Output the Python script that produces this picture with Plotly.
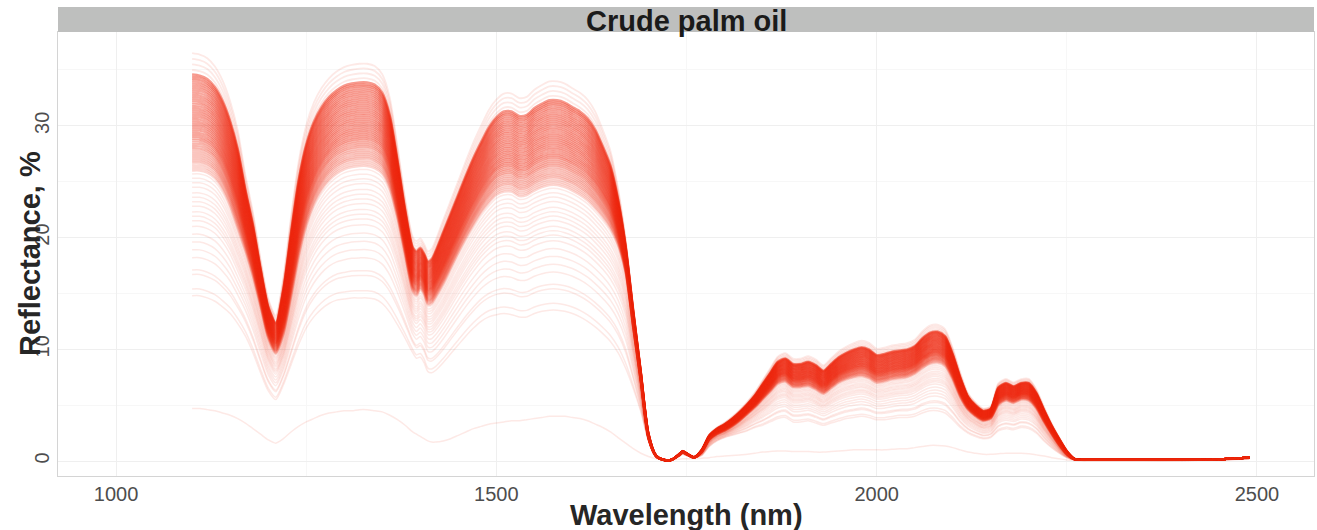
import numpy as np
import plotly.graph_objects as go

# ---------------- data ----------------
wavelength_nm = [
    1100, 1110, 1120, 1130, 1140, 1150, 1160, 1170, 1180, 1190,
    1200, 1210, 1220, 1230, 1240, 1250, 1260, 1270, 1280, 1290,
    1300, 1310, 1320, 1330, 1340, 1350, 1360, 1370, 1380, 1390,
    1395, 1400, 1405, 1410, 1415, 1420, 1430, 1440, 1450, 1460,
    1470, 1480, 1490, 1500, 1510, 1520, 1530, 1540, 1550, 1560,
    1570, 1580, 1590, 1600, 1610, 1620, 1630, 1640, 1650, 1660,
    1670, 1680, 1690, 1700, 1710, 1720, 1730, 1740, 1745, 1750,
    1760, 1770, 1780, 1790, 1800, 1810, 1820, 1830, 1840, 1850,
    1860, 1870, 1880, 1890, 1900, 1910, 1920, 1930, 1940, 1950,
    1960, 1970, 1980, 1990, 2000, 2010, 2020, 2030, 2040, 2050,
    2060, 2070, 2080, 2090, 2100, 2110, 2120, 2130, 2140, 2150,
    2160, 2170, 2180, 2190, 2200, 2210, 2220, 2230, 2240, 2250,
    2260, 2270, 2280, 2300, 2350, 2400, 2450, 2490,
]

# upper edge of the dense group of spectra
dense_high = [
    34.6, 34.5, 34.2, 33.5, 32.3, 30.5, 28.0, 24.4, 21.2, 17.3,
    13.9, 12.4, 15.5, 20.5, 25.2, 28.4, 30.4, 31.7, 32.6, 33.2,
    33.6, 33.8, 33.9, 33.9, 33.7, 33.0, 31.0, 27.0, 22.6, 19.2,
    18.8, 19.1, 18.6, 17.9, 18.1, 18.8, 20.5, 22.2, 23.9, 25.6,
    27.2, 28.6, 29.9, 30.8, 31.3, 31.3, 30.9, 31.0, 31.6, 32.0,
    32.3, 32.3, 32.1, 31.7, 31.3, 30.7, 29.7, 28.2, 26.5, 23.5,
    19.3, 13.5, 8.0, 2.5, 0.5, 0.1, 0.1, 0.6, 0.9, 0.7,
    0.35, 1.0, 2.3, 2.9, 3.3, 3.8, 4.4, 5.1, 5.9, 6.9,
    7.9, 8.9, 9.2, 8.7, 8.7, 8.9, 8.6, 8.1, 8.7, 9.3,
    9.7, 10.0, 10.2, 10.0, 9.5, 9.6, 9.8, 9.9, 10.0, 10.3,
    11.0, 11.5, 11.6, 11.2, 9.6, 7.5, 5.8, 5.0, 4.5, 4.7,
    6.6, 7.0, 6.7, 7.0, 7.0, 6.1, 4.6, 3.2, 2.0, 0.9,
    0.2, 0.1, 0.1, 0.1, 0.1, 0.1, 0.15, 0.3,
]

# lower edge of the dense group of spectra
dense_low = [
    26.0, 26.0, 25.8, 25.3, 24.3, 22.8, 20.8, 18.8, 16.5, 13.8,
    11.0, 9.6, 11.3, 14.6, 18.2, 21.0, 22.9, 24.2, 25.1, 25.7,
    26.1, 26.3, 26.4, 26.4, 26.2, 25.7, 24.3, 21.7, 18.4, 15.2,
    14.8, 15.4, 14.9, 14.0, 14.1, 14.6, 15.8, 17.2, 18.6, 19.9,
    21.1, 22.2, 23.1, 23.8, 24.1, 24.1, 23.7, 23.8, 24.2, 24.5,
    24.7, 24.7, 24.5, 24.2, 23.8, 23.3, 22.6, 21.8, 20.8, 19.3,
    16.8, 11.8, 7.0, 2.0, 0.4, 0.1, 0.1, 0.5, 0.8, 0.6,
    0.3, 0.8, 1.9, 2.4, 2.7, 3.1, 3.6, 4.2, 4.8, 5.5,
    6.2, 6.9, 7.1, 6.6, 6.6, 6.7, 6.4, 6.0, 6.5, 7.0,
    7.3, 7.5, 7.6, 7.4, 7.0, 7.1, 7.3, 7.4, 7.5, 7.8,
    8.3, 8.7, 8.8, 8.5, 7.3, 5.7, 4.6, 4.0, 3.6, 3.8,
    5.0, 5.4, 5.2, 5.5, 5.4, 4.7, 3.5, 2.4, 1.4, 0.6,
    0.15, 0.1, 0.1, 0.1, 0.1, 0.1, 0.15, 0.3,
]

# lowest of the scattered (sparse) spectra
sparse_low = [
    14.8, 14.8, 14.6, 14.3, 13.8, 13.2, 12.3, 11.2, 9.7, 7.9,
    6.3, 5.5, 6.8, 8.6, 10.4, 11.9, 12.9, 13.6, 14.1, 14.4,
    14.5, 14.6, 14.6, 14.6, 14.5, 14.1, 13.3, 12.2, 11.0, 9.7,
    9.2, 9.3, 8.8, 8.0, 7.9, 8.1, 8.8, 9.6, 10.4, 11.2,
    11.9, 12.5, 12.9, 13.1, 13.2, 13.1, 12.9, 12.9, 13.2, 13.4,
    13.5, 13.5, 13.4, 13.2, 12.9, 12.5, 12.0, 11.4, 10.7, 9.7,
    8.3, 6.5, 4.4, 1.8, 0.4, 0.1, 0.1, 0.4, 0.6, 0.5,
    0.3, 0.5, 1.3, 1.8, 2.1, 2.3, 2.5, 2.7, 3.0, 3.2,
    3.5, 3.8, 3.9, 3.5, 3.5, 3.6, 3.4, 3.2, 3.4, 3.6,
    3.8, 3.9, 4.0, 3.9, 3.7, 3.7, 3.8, 3.9, 3.9, 4.0,
    4.3, 4.5, 4.5, 4.3, 3.7, 3.0, 2.5, 2.2, 2.0, 2.1,
    2.7, 2.9, 2.8, 3.0, 2.9, 2.5, 1.8, 1.2, 0.7, 0.3,
    0.1, 0.05, 0.05, 0.05, 0.05, 0.05, 0.1, 0.2,
]

# single very low outlier spectrum
outlier = [
    4.7, 4.7, 4.6, 4.5, 4.3, 4.1, 3.8, 3.4, 2.9, 2.4,
    1.9, 1.6, 2.0, 2.6, 3.1, 3.5, 3.8, 4.1, 4.3, 4.4,
    4.5, 4.5, 4.6, 4.6, 4.5, 4.4, 4.1, 3.7, 3.2, 2.6,
    2.4, 2.2, 2.0, 1.8, 1.7, 1.7, 1.8, 2.0, 2.3, 2.6,
    2.9, 3.1, 3.3, 3.4, 3.5, 3.6, 3.6, 3.7, 3.8, 3.9,
    4.0, 4.0, 4.0, 3.9, 3.8, 3.6, 3.3, 3.0, 2.6, 2.1,
    1.6, 1.1, 0.7, 0.4, 0.2, 0.1, 0.1, 0.15, 0.2, 0.2,
    0.2, 0.25, 0.3, 0.4, 0.45, 0.5, 0.55, 0.6, 0.7, 0.8,
    0.85, 0.9, 0.9, 0.85, 0.85, 0.85, 0.8, 0.8, 0.85, 0.9,
    0.95, 1.0, 1.0, 1.0, 1.0, 1.0, 1.05, 1.1, 1.1, 1.2,
    1.3, 1.4, 1.4, 1.35, 1.2, 1.0, 0.8, 0.7, 0.6, 0.6,
    0.65, 0.7, 0.7, 0.7, 0.65, 0.55, 0.45, 0.3, 0.2, 0.1,
    0.05, 0.05, 0.05, 0.05, 0.05, 0.05, 0.1, 0.15,
]

# reflectance at 1100 nm of the samples in the dense group, and how many samples sit there
dense_levels = [34.6, 34.4, 34.2, 34.0, 33.8, 33.6, 33.4, 33.2, 33.0, 32.8,
                32.6, 32.4, 32.2, 32.0, 31.8, 31.6, 31.4, 31.2, 31.0, 30.8,
                30.6, 30.4, 30.2, 30.0, 29.8, 29.6, 29.4, 29.2, 29.0, 28.8,
                28.6, 28.4, 28.2, 28.0, 27.8, 27.6, 27.4, 27.2, 27.0, 26.8,
                26.6, 26.4, 26.2, 26.0]
dense_counts = [6, 6, 6, 5, 5, 5, 5, 5, 5, 5,
                5, 5, 5, 5, 5, 5, 5, 5, 5, 5,
                5, 5, 5, 5, 5, 5, 5, 5, 5, 5,
                4, 4, 4, 4, 3, 3, 3, 3, 3, 3,
                2, 2, 2, 2]
# reflectance at 1100 nm of scattered samples
sparse_levels = [25.7, 25.3, 24.9, 24.5, 24.0, 23.6, 23.2, 22.8, 22.3, 21.9,
                 21.5, 21.0, 20.3, 19.6, 18.9, 18.2, 17.1, 16.7, 15.4, 14.8]
top_levels = [35.0, 35.5, 36.0, 36.5]

x_tick_values = [1000, 1500, 2000, 2500]
y_tick_values = [0, 10, 20, 30]

panel_title = "Crude palm oil"
x_title = "Wavelength (nm)"
y_title = "Reflectance, %"

# ---------------- build spectra ----------------
wl = np.array(wavelength_nm, dtype=float)
hi = np.array(dense_high)
lo = np.array(dense_low)
sp = np.array(sparse_low)
assert len(wl) == len(hi) == len(lo) == len(sp) == len(outlier)


def spectrum(level):
    if level >= lo[0]:
        t = (level - lo[0]) / (hi[0] - lo[0])
        return lo + t * (hi - lo)
    t = (level - sp[0]) / (lo[0] - sp[0])
    return sp + t * (lo - sp)


BASE = (238, 40, 14)
ALPHA = 0.10


def rgba(count):
    a = 1 - (1 - ALPHA) ** count
    return f"rgba({BASE[0]},{BASE[1]},{BASE[2]},{a:.3f})"


fig = go.Figure()


def add(y, count, width):
    fig.add_trace(go.Scatter(
        x=wl, y=y, mode="lines",
        line=dict(color=rgba(count), width=width, shape="spline", smoothing=0.7),
        hoverinfo="skip", showlegend=False))


add(np.array(outlier), 1, 1.5)
for lv in sparse_levels:
    add(spectrum(lv), 1, 1.5)
for lv, c in zip(dense_levels, dense_counts):
    add(spectrum(lv), c, 2.2)
for lv in top_levels:
    add(spectrum(lv), 1, 1.8)

# ---------------- layout ----------------
L, R, T, B = 58, 3, 32, 54
W, H = 1317, 530
plot_h = H - T - B
plot_w = W - L - R
strip_h = 25

tick_font = dict(family="Liberation Sans, Arial, sans-serif", size=20, color="#4d4d4d")
title_font = dict(family="Liberation Sans, Arial, sans-serif", size=29, color="#262626")

fig.update_layout(
    width=W, height=H,
    margin=dict(l=L, r=R, t=T, b=B, pad=0),
    paper_bgcolor="white", plot_bgcolor="white",
    showlegend=False,
    xaxis=dict(
        range=[923.7, 2575], tickmode="array", tickvals=x_tick_values,
        ticktext=[str(v) for v in x_tick_values],
        tickfont=tick_font, showgrid=True, gridcolor="#efefef", gridwidth=1,
        zeroline=False, showline=True, mirror=True, linecolor="#d4d4d4", linewidth=1,
        ticks="", minor=dict(tickvals=[1250, 1750, 2250], showgrid=True, gridcolor="#f7f7f7"),
    ),
    yaxis=dict(
        range=[-1.34, 38.4], tickmode="array", tickvals=y_tick_values,
        ticktext=[str(v) for v in y_tick_values], tickangle=-90,
        tickfont=tick_font, showgrid=True, gridcolor="#efefef", gridwidth=1,
        zeroline=False, showline=True, mirror=True, linecolor="#d4d4d4", linewidth=1,
        ticks="", minor=dict(tickvals=[5, 15, 25, 35], showgrid=True, gridcolor="#f7f7f7"),
    ),
    shapes=[dict(type="rect", xref="paper", yref="paper", x0=0, x1=1,
                 y0=1, y1=1 + strip_h / plot_h, fillcolor="#bebfbe",
                 line=dict(width=0), layer="above")],
    annotations=[
        dict(text=f"<b>{panel_title}</b>", xref="paper", yref="paper",
             x=0.5, y=1 + (strip_h / 2 - 1) / plot_h, xanchor="center", yanchor="middle",
             showarrow=False, font=dict(family="Liberation Sans, Arial, sans-serif", size=29, color="#1a1a1a")),
        dict(text=f"<b>{x_title}</b>", xref="paper", yref="paper",
             x=0.5, y=-(515 - (H - B)) / plot_h, xanchor="center", yanchor="middle",
             showarrow=False, font=title_font),
        dict(text=f"<b>{y_title}</b>", xref="paper", yref="paper",
             x=-(L - 30) / plot_w, y=0.5, xanchor="center", yanchor="middle",
             textangle=-90, showarrow=False, font=title_font),
    ],
)

fig.write_html("out.html")
